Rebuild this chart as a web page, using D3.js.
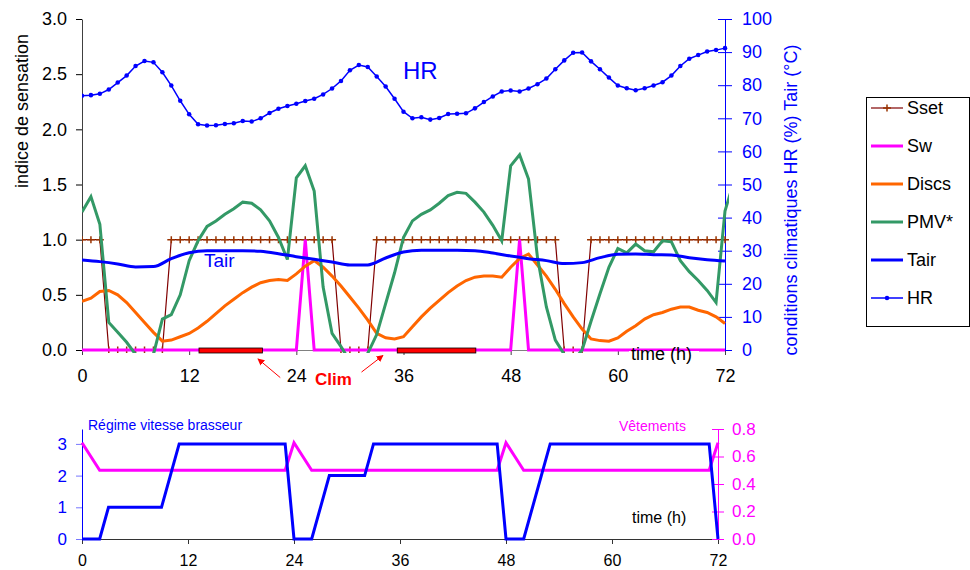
<!DOCTYPE html>
<html>
<head>
<meta charset="utf-8">
<script src="https://cdn.jsdelivr.net/npm/d3@7"></script>
<style>
  body { margin: 0; background: #fff; }
  svg { font-family: "Liberation Sans", Arial, sans-serif; }
</style>
</head>
<body>
<svg width="970" height="570"></svg>
<script>
// ---- data (hourly, 0..72 h) ----
var sset = [1,1,1, 0,0,0,0,0,0,0,
  1,1,1,1,1,1,1,1,1,1,1,1,1,1,1,1,1,1,1,
  0,0,0,0,
  1,1,1,1,1,1,1,1,1,1,1,1,1,1,1,1,1,1,1,1,1,
  0,0,0,
  1,1,1,1,1,1,1,1,1,1,1,1,1,1,1,1];

var sw = [0,0,0,0,0,0,0,0,0,0,0,0,0,0,0,0,0,0,0,0,0,0,0,0,0,1,0,0,0,0,
  0,0,0,0,0,0,0,0,0,0,0,0,0,0,0,0,0,0,0,1,0,0,0,0,0,0,0,0,0,0,
  0,0,0,0,0,0,0,0,0,0,0,0,0];

var discs = [0.44,0.47,0.53,0.54,0.50,0.43,0.34,0.25,0.16,0.08,
  0.09,0.12,0.15,0.20,0.26,0.33,0.40,0.46,0.52,0.57,
  0.61,0.63,0.64,0.63,0.69,0.76,0.81,0.75,0.67,0.58,
  0.48,0.38,0.27,0.15,0.11,0.10,0.12,0.21,0.30,0.38,
  0.45,0.52,0.58,0.63,0.66,0.67,0.67,0.66,0.75,0.83,
  0.87,0.77,0.67,0.55,0.42,0.30,0.19,0.10,0.085,0.08,
  0.11,0.17,0.22,0.28,0.32,0.34,0.37,0.39,0.39,0.36,
  0.34,0.30,0.24];

// PMV* has one more point (h73), cut by the plot edge
var pmv = [1.25,1.39,1.14,0.25,0.16,0.07,-0.04,-0.15,-0.04,0.28,
  0.32,0.50,0.81,0.99,1.12,1.17,1.23,1.28,1.34,1.33,
  1.27,1.17,1.02,0.82,1.56,1.67,1.44,0.57,0.15,0.03,
  -0.10,-0.15,-0.03,0.14,0.42,0.70,1.02,1.17,1.23,1.27,
  1.33,1.40,1.43,1.42,1.34,1.25,1.13,0.99,1.67,1.77,
  1.55,0.84,0.39,0.09,-0.04,-0.10,0.00,0.26,0.51,0.75,
  0.92,0.88,0.96,0.90,0.89,0.99,0.98,0.81,0.71,0.63,
  0.54,0.43,1.26,1.53];

var tairHours = [0,2,4,6,8,10,12,14,16,18,20,22,24,26,28,30,32,34,36,
  38,40,42,44,46,48,50,52,54,56,58,60,62,64,66,68,70,72];
var tair = [27.2,26.7,26.0,25.1,25.2,27.6,29.4,30.0,30.0,30.0,29.8,29.1,28.2,27.4,26.6,25.7,25.7,27.8,29.6,
  30.1,30.1,30.1,30.0,29.3,28.4,27.6,27.0,26.1,26.4,27.9,28.9,29.0,28.8,28.7,27.9,27.3,26.9];

var hr = [76.8,77.0,77.4,78.7,80.8,82.9,85.8,87.3,86.9,83.9,
  79.9,75.3,71.2,68.2,67.8,67.9,68.3,68.5,69.2,69.0,
  70.0,71.6,72.9,73.7,74.4,75.2,75.9,77.2,79.0,81.3,
  84.5,86.1,85.5,82.6,79.6,75.9,72.0,70.0,70.3,69.6,
  70.1,71.3,71.4,71.5,73.0,74.9,76.6,78.1,78.4,78.1,
  79.0,80.3,82.0,84.8,87.5,89.8,89.9,87.2,84.8,82.3,
  79.9,79.1,78.5,79.1,79.9,80.9,82.9,85.8,88.0,89.1,
  90.2,90.6,91.2];

var climPeriods = [[13.1, 20.2], [35.3, 44.1]];

// bottom chart
var fan = [0,0,0, 1,1,1,1,1,1,1, 2,
  3,3,3,3,3,3,3,3,3,3,3,3,3,
  0,0,0, 1, 2,2,2,2,2,
  3,3,3,3,3,3,3,3,3,3,3,3,3,3,3,
  0,0,0, 1, 2,
  3,3,3,3,3,3,3,3,3,3,3,3,3,3,3,3,3,3,3,
  0];

var clo = [0.7,0.6,
  0.5,0.5,0.5,0.5,0.5,0.5,0.5,0.5,0.5,0.5,0.5,0.5,0.5,0.5,0.5,0.5,0.5,0.5,0.5,0.5,0.5,0.5,
  0.7,0.6,
  0.5,0.5,0.5,0.5,0.5,0.5,0.5,0.5,0.5,0.5,0.5,0.5,0.5,0.5,0.5,0.5,0.5,0.5,0.5,0.5,0.5,0.5,
  0.7,0.6,
  0.5,0.5,0.5,0.5,0.5,0.5,0.5,0.5,0.5,0.5,0.5,0.5,0.5,0.5,0.5,0.5,0.5,0.5,0.5,0.5,0.5,0.5,
  0.7];

var timeTicks = [0, 12, 24, 36, 48, 60, 72];
var leftTicks = [0, 0.5, 1, 1.5, 2, 2.5, 3];
var rightTicks = [0,10,20,30,40,50,60,70,80,90,100];
var fanTicks = [0, 1, 2, 3];
var cloTicks = [0, 0.2, 0.4, 0.6, 0.8];

var svg = d3.select("svg");

// ---- top chart ----
var x = d3.scaleLinear().domain([0, 72]).range([82, 725]);
var yL = d3.scaleLinear().domain([0, 3]).range([350, 19]);
var yR = d3.scaleLinear().domain([0, 100]).range([350, 19]);

var defs = svg.append("defs");
defs.append("clipPath").attr("id", "clipTop")
  .append("rect").attr("x", 82).attr("y", 15).attr("width", 647).attr("height", 338);

var gTop = svg.append("g");

// axes
var gx = gTop.append("g").attr("transform", "translate(0,350)")
  .call(d3.axisBottom(x).tickValues(timeTicks).tickSize(5).tickPadding(14).tickSizeOuter(0));
gx.select(".domain").attr("stroke", "#808080");
gx.selectAll(".tick line").attr("stroke", "#404040");
gx.selectAll("text").attr("font-size", 18).attr("fill", "#000");

var gl = gTop.append("g").attr("transform", "translate(82,0)")
  .call(d3.axisLeft(yL).tickValues(leftTicks).tickFormat(d3.format(".1f")).tickSize(6).tickPadding(9).tickSizeOuter(0));
gl.select(".domain").attr("stroke", "#404040");
gl.selectAll("text").attr("font-size", 18).attr("fill", "#000");

var gr = gTop.append("g").attr("transform", "translate(725,0)")
  .call(d3.axisRight(yR).tickValues(rightTicks).tickSize(7).tickPadding(10).tickSizeOuter(0));
gr.select(".domain").attr("stroke", "#0000ff");
gr.selectAll(".tick line").attr("stroke", "#0000ff").attr("x1", -7);
gr.selectAll("text").attr("font-size", 18).attr("fill", "#0000ff");

// axis titles
gTop.append("text").attr("transform", "translate(28,111) rotate(-90)")
  .attr("text-anchor", "middle").attr("font-size", 18).text("indice de sensation");
gTop.append("text").attr("transform", "translate(797,200) rotate(-90)")
  .attr("text-anchor", "middle").attr("font-size", 18).attr("fill", "#0000ff")
  .text("conditions climatiques HR (%) Tair (°C)");

var plot = gTop.append("g").attr("clip-path", "url(#clipTop)");

var lineL = d3.line().x(function(d, i) { return x(i); }).y(function(d) { return yL(d); });

// Sset
plot.append("path").datum(sset).attr("d", lineL)
  .attr("fill", "none").attr("stroke", "#800000").attr("stroke-width", 1.2);
plot.selectAll(".sset-m").data(sset).enter().append("path")
  .attr("class", "sset-m")
  .attr("transform", function(d, i) { return "translate(" + x(i) + "," + yL(d) + ")"; })
  .attr("d", "M-4,0H4M0,-3.5V3.5")
  .attr("stroke", "#993300").attr("stroke-width", 1.5);

// Sw
plot.append("path").datum(sw).attr("d", lineL)
  .attr("fill", "none").attr("stroke", "#ff00ff").attr("stroke-width", 3);

// Discs
plot.append("path").datum(discs).attr("d", lineL)
  .attr("fill", "none").attr("stroke", "#ff6600").attr("stroke-width", 3);

// PMV*
plot.append("path").datum(pmv).attr("d", lineL)
  .attr("fill", "none").attr("stroke", "#339966").attr("stroke-width", 3);

// Tair
var lineTair = d3.line().curve(d3.curveMonotoneX)
  .x(function(d, i) { return x(tairHours[i]); }).y(function(d) { return yR(d); });
plot.append("path").datum(tair).attr("d", lineTair)
  .attr("fill", "none").attr("stroke", "#0000ff").attr("stroke-width", 3);

// HR
var lineHR = d3.line().x(function(d, i) { return x(i); }).y(function(d) { return yR(d); });
plot.append("path").datum(hr).attr("d", lineHR)
  .attr("fill", "none").attr("stroke", "#0000ff").attr("stroke-width", 1.5);
plot.selectAll(".hr-m").data(hr).enter().append("path")
  .attr("class", "hr-m")
  .attr("transform", function(d, i) { return "translate(" + x(i) + "," + yR(d) + ")"; })
  .attr("d", d3.symbol(d3.symbolCircle, 16))
  .attr("fill", "#0000ff");

// Clim bars
gTop.selectAll(".clim").data(climPeriods).enter().append("rect")
  .attr("class", "clim")
  .attr("x", function(d) { return x(d[0]); })
  .attr("width", function(d) { return x(d[1]) - x(d[0]); })
  .attr("y", yL(0) - 2).attr("height", 5)
  .attr("fill", "#ff0000").attr("stroke", "#000").attr("stroke-width", 0.8);

// labels in the plot
gTop.append("text").attr("x", 403).attr("y", 79).attr("font-size", 24)
  .attr("fill", "#0000ff").text("HR");
gTop.append("text").attr("x", 204).attr("y", 267).attr("font-size", 19)
  .attr("fill", "#0000ff").text("Tair");

var tt = gTop.append("g");
tt.append("rect").attr("x", 629).attr("y", 351).attr("width", 70).attr("height", 14).attr("fill", "#fff");
tt.append("text").attr("x", 631).attr("y", 360).attr("font-size", 18).text("time (h)");

// Clim annotation
defs.append("marker").attr("id", "arrow")
  .attr("viewBox", "0 0 10 10").attr("refX", 9).attr("refY", 5)
  .attr("markerWidth", 7).attr("markerHeight", 7).attr("orient", "auto")
  .append("path").attr("d", "M0,0L10,5L0,10z").attr("fill", "#ff0000");
gTop.append("line")
  .attr("x1", x(22.2)).attr("y1", yL(-0.25)).attr("x2", x(19.7)).attr("y2", yL(-0.08))
  .attr("stroke", "#ff0000").attr("stroke-width", 1).attr("marker-end", "url(#arrow)");
gTop.append("line")
  .attr("x1", x(31.3)).attr("y1", yL(-0.2)).attr("x2", x(33.7)).attr("y2", yL(-0.05))
  .attr("stroke", "#ff0000").attr("stroke-width", 1).attr("marker-end", "url(#arrow)");
gTop.append("text").attr("x", 315).attr("y", 385).attr("font-size", 17)
  .attr("font-weight", "bold").attr("fill", "#ff0000").text("Clim");

// ---- legend ----
var legendItems = [
  { label: "Sset", color: "#800000", width: 1.2, marker: "plus" },
  { label: "Sw", color: "#ff00ff", width: 3 },
  { label: "Discs", color: "#ff6600", width: 3 },
  { label: "PMV*", color: "#339966", width: 3 },
  { label: "Tair", color: "#0000ff", width: 3 },
  { label: "HR", color: "#0000ff", width: 1.5, marker: "dot" }
];
var lg = svg.append("g");
lg.append("rect").attr("x", 866.5).attr("y", 97.5).attr("width", 103).attr("height", 229)
  .attr("fill", "#fff").attr("stroke", "#000");
var li = lg.selectAll(".li").data(legendItems).enter().append("g")
  .attr("class", "li")
  .attr("transform", function(d, i) { return "translate(0," + (108 + i * 38) + ")"; });
li.append("line").attr("x1", 871).attr("x2", 903)
  .attr("stroke", function(d) { return d.color; })
  .attr("stroke-width", function(d) { return d.width; });
li.filter(function(d) { return d.marker === "plus"; }).append("path")
  .attr("transform", "translate(887,0)").attr("d", "M-4,0H4M0,-3.5V3.5")
  .attr("stroke", "#993300").attr("stroke-width", 1.5);
li.filter(function(d) { return d.marker === "dot"; }).append("path")
  .attr("transform", "translate(887,0)").attr("d", d3.symbol(d3.symbolCircle, 16))
  .attr("fill", "#0000ff");
li.append("text").attr("x", 907).attr("dy", "0.35em").attr("font-size", 18)
  .text(function(d) { return d.label; });

// ---- bottom chart ----
var xb = d3.scaleLinear().domain([0, 72]).range([82, 718]);
var yb = d3.scaleLinear().domain([0, 3.47]).range([539, 429]);
var yc = d3.scaleLinear().domain([0, 0.8]).range([539, 429]);

var bot = svg.append("g");

var bx = bot.append("g").attr("transform", "translate(0,539)")
  .call(d3.axisBottom(xb).tickValues(timeTicks).tickSize(5).tickPadding(11).tickSizeOuter(0));
bx.select(".domain").attr("stroke", "#333");
bx.selectAll(".tick line").attr("stroke", "#333");
bx.selectAll("text").attr("font-size", 16).attr("fill", "#000");

var bl = bot.append("g").attr("transform", "translate(82,0)")
  .call(d3.axisLeft(yb).tickValues(fanTicks).tickFormat(d3.format("d")).tickSize(6).tickPadding(9).tickSizeOuter(0));
bl.select(".domain").attr("stroke", "#0000ff");
bl.selectAll(".tick line").attr("stroke", "#7777ff");
bl.selectAll("text").attr("font-size", 17).attr("fill", "#0000ff");

var br = bot.append("g").attr("transform", "translate(718,0)")
  .call(d3.axisRight(yc).tickValues(cloTicks).tickFormat(d3.format(".1f"))
    .tickSize(6).tickPadding(8).tickSizeOuter(0));
br.select(".domain").attr("stroke", "#ff00ff");
br.selectAll(".tick line").attr("stroke", "#ff00ff").attr("x1", -6);
br.selectAll("text").attr("font-size", 17).attr("fill", "#ff00ff");

bot.append("path").datum(clo)
  .attr("d", d3.line().x(function(d, i) { return xb(i); }).y(function(d) { return yc(d); }))
  .attr("fill", "none").attr("stroke", "#ff00ff").attr("stroke-width", 3);
bot.append("path").datum(fan)
  .attr("d", d3.line().x(function(d, i) { return xb(i); }).y(function(d) { return yb(d); }))
  .attr("fill", "none").attr("stroke", "#0000ff").attr("stroke-width", 3);

bot.append("text").attr("x", 88).attr("y", 430).attr("font-size", 14)
  .attr("fill", "#0000ff").text("Régime vitesse brasseur");
bot.append("text").attr("x", 619).attr("y", 431).attr("font-size", 14)
  .attr("fill", "#ff00ff").text("Vêtements");
bot.append("text").attr("x", 632).attr("y", 523).attr("font-size", 16)
  .text("time (h)");
</script>
</body>
</html>
